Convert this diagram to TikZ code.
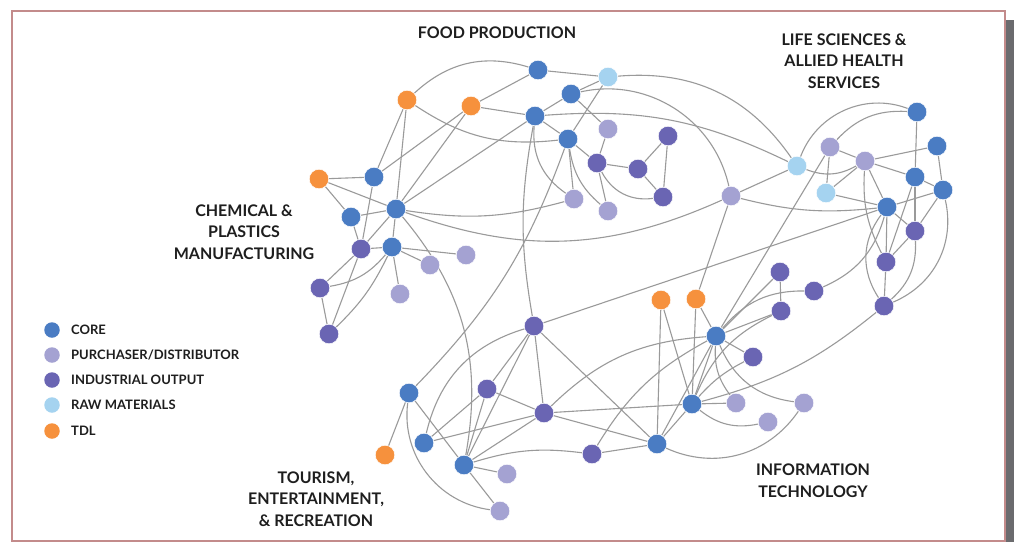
\documentclass[tikz,border=0pt]{standalone}
\usepackage{fontspec}
\newfontfamily\labfont{Lato}
\usetikzlibrary{backgrounds}
\definecolor{core}{HTML}{4A7CC3}
\definecolor{purch}{HTML}{A4A2D2}
\definecolor{indus}{HTML}{6A65B3}
\definecolor{raw}{HTML}{A5D3F0}
\definecolor{tdl}{HTML}{F6913D}
\definecolor{edgec}{HTML}{9A9A9A}
\definecolor{framec}{HTML}{C38B8B}
\definecolor{shadowc}{HTML}{6B6B6E}
\definecolor{txt}{HTML}{1E1E1E}
\tikzset{
  nd/.style={circle, minimum size=19.5pt, inner sep=0pt, draw=white, line width=0.5pt},
  cn/.style={nd, fill=core},
  pn/.style={nd, fill=purch},
  dn/.style={nd, fill=indus},
  rn/.style={nd, fill=raw},
  tn/.style={nd, fill=tdl},
  lnk/.style={draw=edgec, line width=1.1pt},
  sect/.style={font=\labfont\bfseries\fontsize{16}{21.7}\selectfont, align=center, text=txt},
  leg/.style={font=\labfont\bfseries\fontsize{13}{15}\selectfont, anchor=west, text=txt, inner sep=0pt},
  legdot/.style={circle, minimum size=15.5pt, inner sep=0pt},
}
\begin{document}
\begin{tikzpicture}[x=1pt,y=-1pt]
\useasboundingbox (0,0) rectangle (1020,542);
% ---------- nodes ----------
% food
\node[cn] (F1) at (538,70) {};
\node[rn] (F2) at (608,77) {};
\node[cn] (F3) at (571,94) {};
\node[cn] (F4) at (535,116) {};
\node[cn] (F5) at (568,139) {};
\node[pn] (F6) at (608,129) {};
\node[dn] (F7) at (597,163) {};
\node[dn] (F8) at (638,169) {};
\node[dn] (F9) at (668,136) {};
\node[dn] (F10) at (663,197) {};
\node[pn] (F11) at (574,199) {};
\node[pn] (F12) at (608,211) {};
\node[tn] (O1) at (407,100) {};
\node[tn] (O2) at (471,106) {};
% chemical
\node[tn] (O3) at (319,179) {};
\node[cn] (C1) at (374,177) {};
\node[cn] (C2) at (351,217) {};
\node[cn] (C3) at (396,209) {};
\node[dn] (C4) at (361,249) {};
\node[cn] (C5) at (392,247) {};
\node[pn] (C6) at (430,265) {};
\node[pn] (C7) at (466,255) {};
\node[pn] (C8) at (400,294) {};
\node[dn] (C9) at (320,288) {};
\node[dn] (C10) at (329,334) {};
% life sciences
\node[rn] (L1) at (797,166) {};
\node[pn] (L2) at (830,147) {};
\node[pn] (L3) at (865,161) {};
\node[rn] (L4) at (826,193) {};
\node[cn] (L5) at (917,112) {};
\node[cn] (L6) at (937,146) {};
\node[cn] (L7) at (915,177) {};
\node[cn] (L8) at (943,190) {};
\node[cn] (L9) at (887,207) {};
\node[dn] (L10) at (915,231) {};
\node[dn] (L11) at (886,262) {};
\node[dn] (L12) at (884,306) {};
\node[pn] (M1) at (731,196) {};
% information technology
\node[tn] (T0) at (661,300) {};
\node[tn] (T1) at (696,299) {};
\node[cn] (I1) at (716,336) {};
\node[dn] (I2) at (780,272) {};
\node[dn] (I3) at (814,291) {};
\node[dn] (I4) at (781,311) {};
\node[dn] (I5) at (753,357) {};
\node[cn] (I6) at (692,404) {};
\node[pn] (I7) at (736,403) {};
\node[pn] (I8) at (768,422) {};
\node[pn] (I9) at (804,403) {};
% tourism
\node[dn] (U1) at (534,326) {};
\node[cn] (U2) at (409,393) {};
\node[dn] (U3) at (487,389) {};
\node[dn] (U4) at (544,413) {};
\node[cn] (U5) at (424,443) {};
\node[cn] (U6) at (464,465) {};
\node[pn] (U7) at (507,474) {};
\node[pn] (U8) at (500,511) {};
\node[dn] (U9) at (592,454) {};
\node[cn] (U10) at (657,444) {};
\node[tn] (O4) at (385,455) {};
% ---------- labels ----------
\node[sect] (food) at (497,33) {FOOD PRODUCTION};
\node[sect] (life) at (844,61) {LIFE SCIENCES \&\\ALLIED HEALTH\\SERVICES};
\node[sect] (chem) at (244,232) {CHEMICAL \&\\PLASTICS\\MANUFACTURING};
\node[sect] (tour) at (316,499) {TOURISM,\\ENTERTAINMENT,\\\& RECREATION};
\node[sect] (itec) at (813,481) {INFORMATION\\TECHNOLOGY};
% ---------- legend ----------
\node[legdot, fill=core] (g1) at (52,330) {};
\node[legdot, fill=purch] (g2) at (52,355) {};
\node[legdot, fill=indus] (g3) at (52,380) {};
\node[legdot, fill=raw] (g4) at (52,405) {};
\node[legdot, fill=tdl] (g5) at (52,431) {};
\node[leg] (t1) at (71,330) {CORE};
\node[leg] (t2) at (71,355) {PURCHASER/DISTRIBUTOR};
\node[leg] (t3) at (71,380) {INDUSTRIAL OUTPUT};
\node[leg] (t4) at (71,405) {RAW MATERIALS};
\node[leg] (t5) at (71,431) {TDL};
% ---------- background: frame + edges ----------
\begin{scope}[on background layer]
\fill[white] (0,0) rectangle (1020,542);
\fill[shadowc] (1006,20) rectangle (1014,542);
\draw[framec, line width=1.3pt] (12,11) rectangle (1005,541);
% food
\draw[lnk] (O1) to[bend left=30] (F1);
\draw[lnk] (O1) to[bend right=20] (F5);
\draw[lnk] (O1) -- (C1);
\draw[lnk] (O1) -- (C3);
\draw[lnk] (O2) -- (F1);
\draw[lnk] (O2) -- (F4);
\draw[lnk] (O2) -- (C1);
\draw[lnk] (O2) -- (C3);
\draw[lnk] (F1) -- (F2);
\draw[lnk] (F2) -- (F3);
\draw[lnk] (F2) -- (F5);
\draw[lnk] (F2) to[bend left=30] (L1);
\draw[lnk] (F3) -- (F4);
\draw[lnk] (F3) -- (F6);
\draw[lnk] (F3) to[bend left=45] (M1);
\draw[lnk] (F4) -- (F5);
\draw[lnk] (F4) to[bend right=30] (F11);
\draw[lnk] (F4) to[bend right=10] (U1);
\draw[lnk] (F4) to[bend left=15] (L1);
\draw[lnk] (F4) -- (C3);
\draw[lnk] (F5) -- (F7);
\draw[lnk] (F5) -- (F11);
\draw[lnk] (F5) to[bend right=20] (F12);
\draw[lnk] (F5) to[bend left=12] (U2);
\draw[lnk] (F6) -- (F7);
\draw[lnk] (F7) -- (F8);
\draw[lnk] (F7) -- (F12);
\draw[lnk] (F7) to[bend right=35] (F10);
\draw[lnk] (F8) -- (F9);
\draw[lnk] (F8) -- (F10);
\draw[lnk] (F9) -- (F10);
% chemical
\draw[lnk] (O3) -- (C1);
\draw[lnk] (O3) -- (C2);
\draw[lnk] (O3) -- (C3);
\draw[lnk] (C1) -- (C4);
\draw[lnk] (C2) -- (C3);
\draw[lnk] (C2) -- (C4);
\draw[lnk] (C3) -- (C4);
\draw[lnk] (C3) -- (C5);
\draw[lnk] (C3) to[bend right=12] (F11);
\draw[lnk] (C3) to[bend right=22] (M1);
\draw[lnk] (C3) to[bend left=25] (U6);
\draw[lnk] (C4) -- (C5);
\draw[lnk] (C4) -- (C9);
\draw[lnk] (C4) -- (C10);
\draw[lnk] (C5) -- (C6);
\draw[lnk] (C5) -- (C7);
\draw[lnk] (C5) -- (C8);
\draw[lnk] (C5) to[bend left=20] (C9);
\draw[lnk] (C10) to[bend right=10] (C5);
\draw[lnk] (C9) -- (C10);
% life sciences
\draw[lnk] (M1) -- (L1);
\draw[lnk] (M1) to[bend right=10] (L9);
\draw[lnk] (M1) -- (T1);
\draw[lnk] (L1) to[bend left=45] (L5);
\draw[lnk] (L1) to[bend right=25] (L3);
\draw[lnk] (L2) to[bend left=25] (L5);
\draw[lnk] (L2) -- (L3);
\draw[lnk] (L2) -- (L4);
\draw[lnk] (L2) -- (I1);
\draw[lnk] (L3) -- (L4);
\draw[lnk] (L3) -- (L6);
\draw[lnk] (L3) -- (L7);
\draw[lnk] (L3) -- (L9);
\draw[lnk] (L3) to[bend right=15] (L11);
\draw[lnk] (L4) -- (L9);
\draw[lnk] (L5) -- (L7);
\draw[lnk] (L6) -- (L8);
\draw[lnk] (L7) -- (L8);
\draw[lnk] (L7) -- (L10);
\draw[lnk] (L7) -- (L11);
\draw[lnk] (L8) -- (L9);
\draw[lnk] (L8) -- (L10);
\draw[lnk] (L8) to[bend left=40] (L12);
\draw[lnk] (L9) -- (L10);
\draw[lnk] (L9) -- (L11);
\draw[lnk] (L9) to[bend right=35] (L12);
\draw[lnk] (L9) to[bend left=25] (I3);
\draw[lnk] (L9) -- (U1);
\draw[lnk] (L10) -- (L11);
\draw[lnk] (L10) to[bend left=25] (L12);
\draw[lnk] (L11) -- (L12);
% information technology
\draw[lnk] (T0) -- (U10);
\draw[lnk] (T0) -- (I6);
\draw[lnk] (T1) -- (I6);
\draw[lnk] (T1) -- (I1);
\draw[lnk] (I1) -- (I2);
\draw[lnk] (I1) -- (I4);
\draw[lnk] (I1) -- (I5);
\draw[lnk] (I1) -- (I6);
\draw[lnk] (I1) -- (U10);
\draw[lnk] (I1) to[bend left=25] (I3);
\draw[lnk] (I1) to[bend right=20] (I7);
\draw[lnk] (I1) to[bend right=30] (I9);
\draw[lnk] (I2) -- (I4);
\draw[lnk] (I6) to[bend left=20] (I4);
\draw[lnk] (I6) to[bend left=10] (I5);
\draw[lnk] (I6) -- (I7);
\draw[lnk] (I6) to[bend right=25] (I8);
\draw[lnk] (I6) to[bend right=12] (L12);
\draw[lnk] (I6) -- (U10);
\draw[lnk] (U4) -- (I6);
\draw[lnk] (U10) to[bend right=40] (I9);
% tourism
\draw[lnk] (U1) -- (U3);
\draw[lnk] (U1) -- (U4);
\draw[lnk] (U1) -- (U6);
\draw[lnk] (U1) -- (U10);
\draw[lnk] (U1) to[bend right=30] (U5);
\draw[lnk] (U2) -- (O4);
\draw[lnk] (U2) -- (U6);
\draw[lnk] (U2) to[bend right=45] (U8);
\draw[lnk] (U3) -- (U4);
\draw[lnk] (U3) -- (U5);
\draw[lnk] (U3) -- (U6);
\draw[lnk] (U4) -- (U5);
\draw[lnk] (U4) -- (U6);
\draw[lnk] (U4) -- (U10);
\draw[lnk] (U4) to[bend left=20] (I1);
\draw[lnk] (U6) -- (U7);
\draw[lnk] (U6) -- (U8);
\draw[lnk] (U6) to[bend left=12] (U9);
\draw[lnk] (U9) -- (U10);
\draw[lnk] (U9) to[bend left=15] (I1);
\end{scope}
\end{tikzpicture}
\end{document}
